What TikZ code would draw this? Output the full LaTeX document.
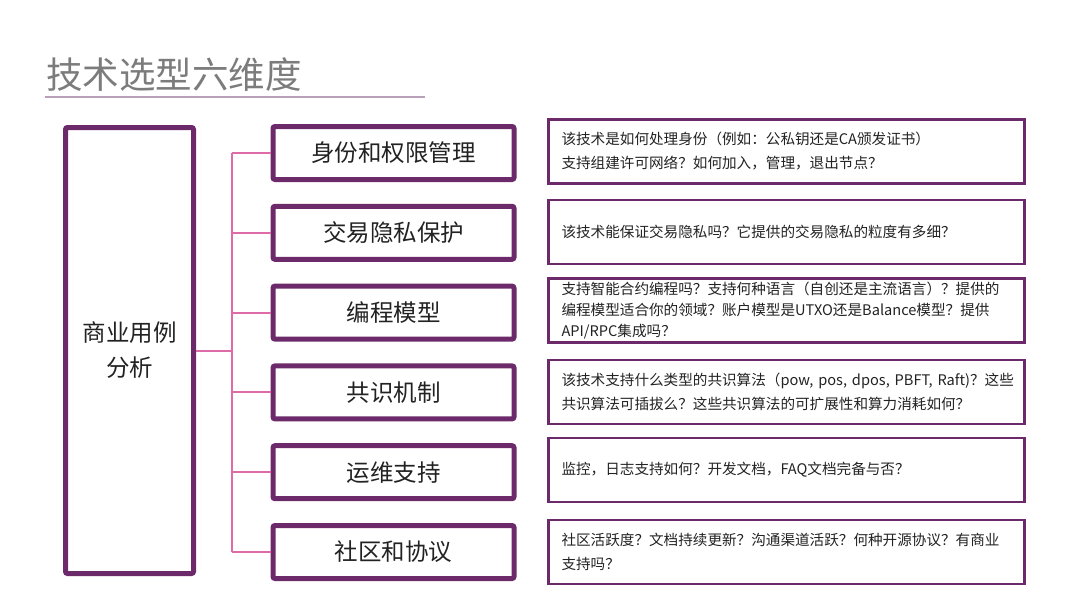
\documentclass[tikz,border=0pt]{standalone}
\usepackage{fontspec}
\setmainfont{Noto Sans CJK SC}
\usepackage{xcolor}
\usetikzlibrary{positioning, calc}
\definecolor{twpurple}{HTML}{6C2A6A}
\definecolor{twpink}{HTML}{DE6AA8}
\definecolor{twgray}{HTML}{7C7C7C}
\definecolor{twrule}{HTML}{B8A0B8}
\definecolor{twtext}{HTML}{222222}

\begin{document}
\begin{tikzpicture}[
  x=1pt, y=-1pt,
  bizbox/.style={draw=twpurple, line width=5pt, rounded corners=2pt, minimum width=128pt, minimum height=446pt, align=center, text=twtext, font=\fontsize{23.5}{35}\selectfont},
  dimbox/.style={draw=twpurple, line width=5pt, rounded corners=2pt, minimum width=241pt, minimum height=53pt, text=twtext, font=\fontsize{23.5}{28}\selectfont},
  descbox/.style={draw=twpurple, line width=2.5pt, minimum width=476pt, minimum height=64pt, inner xsep=13pt, text width=450pt, align=left, text=twtext, font=\fontsize{14.6}{24}\selectfont},
  link/.style={draw=twpink, line width=2pt},
]
\useasboundingbox (0,0) rectangle (1080,608);

% Titre
\node[anchor=west, text=twgray, font=\fontsize{36.5}{40}\selectfont, inner sep=0pt] (title) at (46,75) {技术选型六维度};
\draw[twrule, line width=1.2pt] (45,97) -- (425,97);

% Boite de gauche
\node[bizbox] (biz) at (129.5,350.5) {商业用例\\分析};

% Six dimensions
\foreach \i/\name in {1/身份和权限管理, 2/交易隐私保护, 3/编程模型, 4/共识机制, 5/运维支持, 6/社区和协议} {
  \node[dimbox] (dim\i) at (393.5, 153+79.8*\i-79.8) {\name};
}

% Liens
\coordinate (trunk) at (232,0);
\draw[link] (biz.east) -- (biz.east -| trunk);
\draw[link] (dim1.west -| trunk) -- (dim6.west -| trunk);
\foreach \i in {1,...,6} {
  \draw[link] (dim\i.west -| trunk) -- (dim\i.west);
}

% Descriptions
\node[descbox] (desc1) at (786.5,151.5) {该技术是如何处理身份（例如：公私钥还是CA颁发证书）\\支持组建许可网络？如何加入，管理，退出节点？};
\node[descbox] (desc2) at (786.5,232) {该技术能保证交易隐私吗？它提供的交易隐私的粒度有多细？};
\node[descbox, font=\fontsize{14.6}{21}\selectfont] (desc3) at (786.5,310.5) {支持智能合约编程吗？支持何种语言（自创还是主流语言）？提供的\\编程模型适合你的领域？账户模型是UTXO还是Balance模型？提供\\API/RPC集成吗？};
\node[descbox] (desc4) at (786.5,392) {\mbox{该技术支持什么类型的共识算法（pow, pos, dpos, PBFT, Raft)？这些}\\共识算法可插拔么？这些共识算法的可扩展性和算力消耗如何？};
\node[descbox] (desc5) at (786.5,470) {监控，日志支持如何？开发文档，FAQ文档完备与否？};
\node[descbox] (desc6) at (786.5,552) {社区活跃度？文档持续更新？沟通渠道活跃？何种开源协议？有商业\\支持吗？};

\end{tikzpicture}
\end{document}
